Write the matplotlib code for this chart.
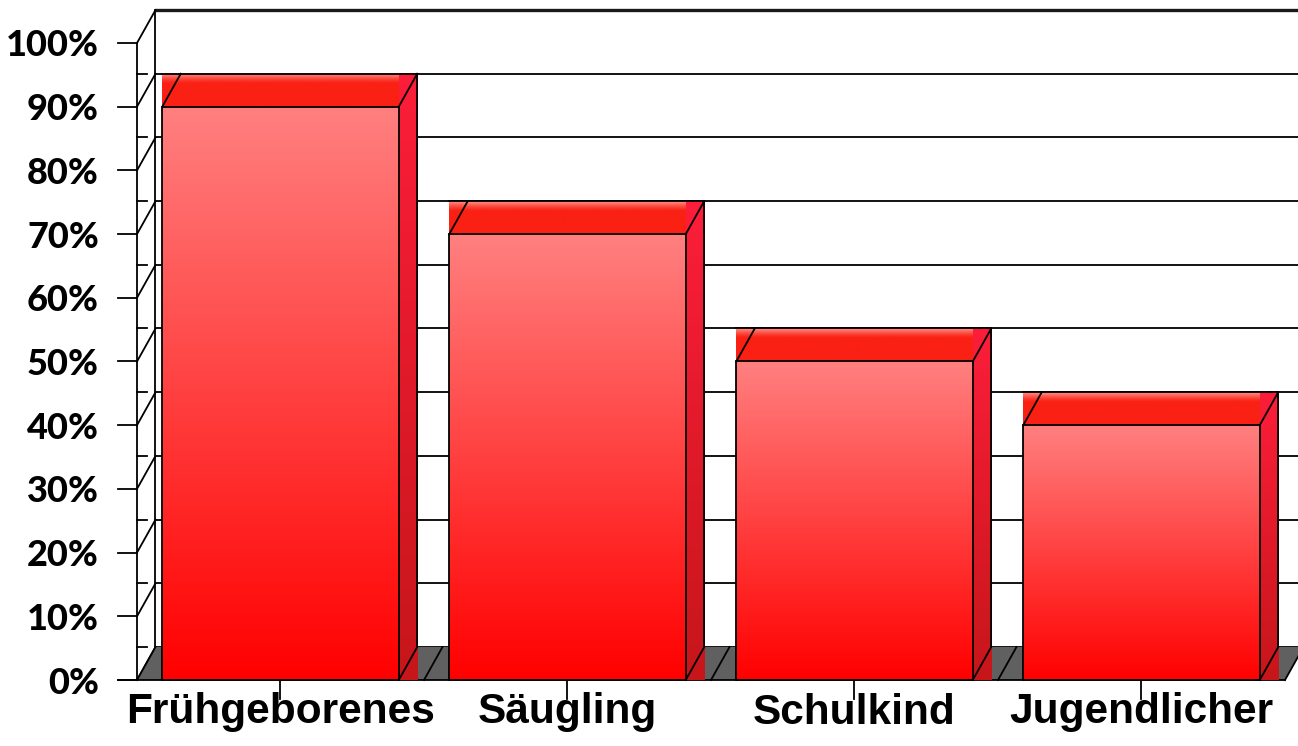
import numpy as np
import matplotlib
matplotlib.use("Agg")
import matplotlib.pyplot as plt
from matplotlib.patches import Polygon, Rectangle

# ---- data ----
categories = ["Frühgeborenes", "Säugling", "Schulkind", "Jugendlicher"]
values = [90, 70, 50, 40]
y_ticks = [0, 10, 20, 30, 40, 50, 60, 70, 80, 90, 100]
y_tick_labels = [f"{t}%" for t in y_ticks]

# ---- style / geometry ----
W, H = 1298, 746
PX_X = 287.0          # pixels per category unit
PX_Y = 6.37           # pixels per percent
X0_PX, Y0_PX = 137.0, 680.0
DX = 18.5 / PX_X      # depth offset (category units)
DY = 33.0 / PX_Y      # depth offset (percent units)
BAR_L, BAR_R = 0.088, 0.912
LW = 1.3
TICK_LEN_X = 19.0 / PX_X
TICK_LEN_Y = 19.0 / PX_Y

fig = plt.figure(figsize=(W / 100, H / 100), dpi=100)
ax = fig.add_axes([0, 0, 1, 1])
ax.set_axis_off()
XMIN, XMAX = -X0_PX / PX_X, (W - X0_PX) / PX_X
YMIN, YMAX = -(H - Y0_PX) / PX_Y, Y0_PX / PX_Y

n = len(categories)
ymax_axis = y_ticks[-1]

def grad(top_rgb, bot_rgb, nrows=256, ramp=None):
    t = np.linspace(0, 1, nrows)  # 0 bottom -> 1 top
    if ramp is not None:
        t = ramp(t)
    top = np.array(top_rgb) / 255.0
    bot = np.array(bot_rgb) / 255.0
    arr = bot[None, :] * (1 - t[:, None]) + top[None, :] * t[:, None]
    return arr[:, None, :]

# back wall gridlines
for t in y_ticks:
    lw = 2.4 if t == ymax_axis else LW
    col = "#1a1a1a" if t == ymax_axis else "black"
    ax.plot([DX, n + DX + 1], [t + DY, t + DY], color=col, lw=lw, zorder=1,
            solid_capstyle="butt")
# wall left edge
ax.plot([DX, DX], [DY, ymax_axis + DY], color="black", lw=LW, zorder=1)
# left-wall diagonals and small marks
for t in y_ticks:
    ax.plot([0, DX], [t, t + DY], color="black", lw=LW, zorder=2)
    if t != ymax_axis:
        ax.plot([0, 0.035], [t + DY, t + DY], color="black", lw=LW, zorder=2)
# front axis line + ticks
ax.plot([0, 0], [0, ymax_axis], color="black", lw=LW, zorder=3)
for t, lab in zip(y_ticks, y_tick_labels):
    ax.plot([-TICK_LEN_X, 0], [t, t], color="black", lw=LW, zorder=3)
    ax.text(-38.0 / PX_X, t - 13.5 / PX_Y, lab, ha="right", va="baseline",
            fontsize=26, fontfamily="Lato", fontweight="black", color="black")

# floor
ax.add_patch(Polygon([(0, 0), (n, 0), (n + DX, DY), (DX, DY)], closed=True,
                     facecolor="#606060", edgecolor="none", zorder=2))
for i in range(n + 1):
    ax.plot([i, i + DX], [0, DY], color="black", lw=LW, zorder=2.5)
ax.plot([-TICK_LEN_X, n], [0, 0], color="black", lw=LW, zorder=2.5)

# bars
front_g = grad((255, 128, 128), (255, 0, 0))
top_g = grad((255, 150, 140), (250, 32, 20),
             ramp=lambda t: np.clip((t - 0.7) / 0.3, 0, 1) ** 1.3)
side_g = grad((252, 30, 58), (198, 22, 26))
for i, v in enumerate(values):
    xl, xr = i + BAR_L, i + BAR_R
    ax.imshow(front_g, extent=[xl, xr, 0, v], origin="lower", aspect="auto",
              interpolation="bilinear", zorder=4)
    ax.imshow(top_g, extent=[xl, xr, v, v + DY], origin="lower", aspect="auto",
              interpolation="bilinear", zorder=4)
    ax.imshow(side_g, extent=[xr, xr + DX, 0, v + DY], origin="lower",
              aspect="auto", interpolation="bilinear", zorder=4)
    kw = dict(color="black", lw=LW, zorder=5, solid_capstyle="projecting")
    ax.add_patch(Rectangle((xl, 0), xr - xl, v, facecolor="none",
                           edgecolor="black", lw=LW, zorder=5))
    ax.plot([xl, xl + DX], [v, v + DY], **kw)
    ax.plot([xl, xr + DX], [v + DY, v + DY], **kw)
    ax.plot([xr, xr + DX], [v, v + DY], **kw)
    ax.plot([xr + DX, xr + DX], [DY, v + DY], **kw)
    ax.plot([xr, xr + DX], [0, DY], **kw)

# category ticks and labels
for i, c in enumerate(categories):
    ax.plot([i + 0.5, i + 0.5], [0, -TICK_LEN_Y], color="black", lw=LW, zorder=3)
    ax.text(i + 0.5, -43.5 / PX_Y, c, ha="center", va="baseline", fontsize=30.5,
            fontfamily="Liberation Sans", fontweight="bold", color="black")

ax.set_xlim(XMIN, XMAX)
ax.set_ylim(YMIN, YMAX)
fig.savefig("out.png", dpi=100)
